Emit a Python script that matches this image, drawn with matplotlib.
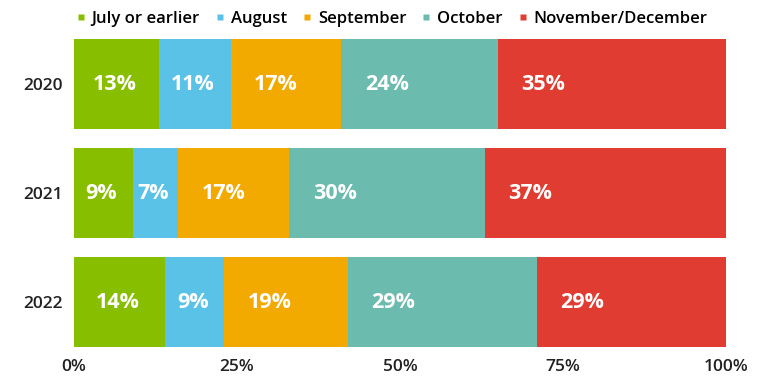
import matplotlib
matplotlib.use("Agg")
import matplotlib.pyplot as plt
from matplotlib.lines import Line2D
import numpy as np

plt.rcParams['font.family'] = ['Open Sans', 'DejaVu Sans']

years = ["2020", "2021", "2022"]
categories = ["July or earlier", "August", "September", "October", "November/December"]
july = [13, 9, 14]
august = [11, 7, 9]
september = [17, 17, 19]
october = [24, 30, 29]
novdec = [35, 37, 29]
colors = ["#88BE00", "#5BC2E7", "#F2A900", "#6BBBAE", "#E03C31"]
xticks = [0, 25, 50, 75, 100]
xticklabels = ["0%", "25%", "50%", "75%", "100%"]

series = [july, august, september, october, novdec]

fig = plt.figure(figsize=(7.68, 3.85), dpi=100)
ax = fig.add_axes([0.0964, 0.074, 0.8489, 0.849])

y = np.arange(len(years))
left = np.zeros(len(years))
for vals, col in zip(series, colors):
    vals = np.array(vals, dtype=float)
    ax.barh(y, vals, left=left, height=0.83, color=col, edgecolor='none')
    for yi, (l, v) in enumerate(zip(left, vals)):
        cx = l + min(v / 2.0 - 0.3, 7.0)
        ax.text(cx, yi, f"{int(v)}%", ha='center', va='center',
                color='white', fontsize=15.5, fontweight='bold')
    left = left + vals

ax.set_xlim(0, 100)
ax.set_ylim(2.5, -0.5)
ax.set_yticks(y)
ax.set_yticklabels(years, fontsize=12.5, fontweight='semibold', color='#222222')
ax.set_xticks(xticks)
ax.set_xticklabels(xticklabels, fontsize=12.5, fontweight='semibold', color='#222222')
ax.tick_params(axis='both', length=0)
ax.tick_params(axis='y', pad=8)
ax.tick_params(axis='x', pad=2)
for s in ax.spines.values():
    s.set_visible(False)

handles = [Line2D([0], [0], marker='s', linestyle='none', markersize=4.5,
                  markerfacecolor=c, markeredgecolor='none') for c in colors]
fig.legend(handles, categories, loc='center', bbox_to_anchor=(0.51, 0.951),
           ncol=5, frameon=False, handlelength=0.6,
           handletextpad=0.35, columnspacing=0.9,
           prop={'weight': 'semibold', 'size': 12})

fig.savefig("out.png", dpi=100)
